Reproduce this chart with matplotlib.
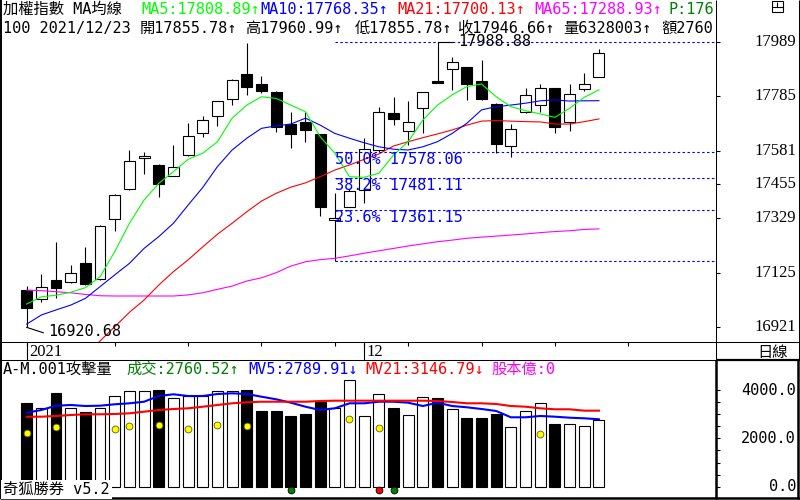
import numpy as np
import matplotlib
matplotlib.use('Agg')
import matplotlib.pyplot as plt
from matplotlib.lines import Line2D
from matplotlib.patches import Rectangle

# daily candles of the TAIEX, last one is 2021/12/23
opens = [17060, 17026, 17098, 17092, 17160, 17100, 17326, 17437, 17553, 17528,
         17487, 17564, 17647, 17710, 17774, 17868, 17831, 17801, 17681, 17688,
         17643, 17322, 17372, 17434, 17584, 17724, 17655, 17740, 17843, 17886,
         17893, 17841, 17756, 17599, 17725, 17752, 17815, 17690, 17811, 17855.78]
highs = [17075, 17119, 17241, 17154, 17222, 17302, 17418, 17584, 17577, 17530,
         17603, 17686, 17711, 17769, 17848, 17985, 17861, 17803, 17727, 17727,
         17645, 17422, 17440, 17628, 17746, 17781, 17767, 17802, 17988.88, 17931,
         17895, 17921, 17758, 17680, 17817, 17830, 17817, 17830, 17871, 17960.99]
lows = [16920.68, 17015, 17030, 17086, 17078, 17098, 17282, 17435, 17493, 17407,
        17485, 17562, 17634, 17675, 17752, 17790, 17796, 17652, 17593, 17615,
        17337, 17167.24, 17370, 17385, 17578, 17678, 17603, 17647, 17835, 17808,
        17772, 17772, 17572, 17559, 17723, 17727, 17649, 17656, 17805, 17855.78]
closes = [16992, 17071, 17069, 17123, 17082, 17300, 17416, 17543, 17562, 17456,
          17520, 17636, 17696, 17767, 17846, 17821, 17806, 17671, 17645, 17658,
          17372, 17330, 17432, 17587, 17725, 17701, 17688, 17800, 17836, 17914,
          17830, 17774, 17605, 17661, 17790, 17815, 17671, 17793, 17831, 17946.66]

ma5 = [17008, 17035, 17041, 17052, 17069, 17110, 17204, 17310, 17397, 17459,
       17503, 17549, 17572, 17615, 17703, 17752, 17783, 17777, 17752, 17727,
       17634, 17572, 17484, 17482, 17497, 17565, 17615, 17696, 17752, 17790,
       17821, 17831, 17783, 17746, 17731, 17719, 17706, 17740, 17781, 17808.89]
ma10 = [16933, 16967, 16986, 17004, 17029, 17073, 17117, 17160, 17216, 17260,
        17310, 17378, 17444, 17522, 17584, 17628, 17665, 17674, 17681, 17703,
        17677, 17646, 17628, 17611, 17596, 17587, 17584, 17596, 17615, 17646,
        17684, 17734, 17746, 17752, 17759, 17768, 17771, 17767, 17768, 17768.35]
ma21_start = 4
ma21 = [16814, 16870, 16923, 16977, 17023, 17079, 17129, 17173, 17222, 17269,
        17310, 17353, 17393, 17422, 17445, 17461, 17484, 17509, 17528, 17549,
        17569, 17599, 17615, 17630, 17644, 17659, 17677, 17692, 17694, 17692,
        17690, 17689, 17681, 17681, 17690, 17700.13]
ma65 = [17060, 17058, 17054, 17050, 17044, 17039, 17038, 17038, 17038, 17038,
        17038, 17042, 17050, 17063, 17075, 17094, 17106, 17125, 17150, 17166,
        17174, 17179, 17188, 17198, 17207, 17216, 17225, 17233, 17241, 17247,
        17254, 17258, 17262, 17266, 17270, 17275, 17279, 17282, 17287, 17288.93]

# turnover (億)
volume = [3476, 3244, 3890, 3244, 3104, 3244, 3753, 3960, 3960, 4001,
          3658, 3753, 3753, 3960, 3960, 4001, 3145, 3145, 2926, 3008,
          3517, 3244, 4415, 2926, 3836, 3250, 2954, 3724, 3658, 3203,
          2830, 2830, 3008, 2458, 3120, 3451, 2594, 2582, 2512, 2760.52]
mv5 = [3062, 3174, 3352, 3381, 3339, 3352, 3410, 3451, 3517, 3753,
       3824, 3753, 3753, 3836, 3865, 3836, 3724, 3617, 3476, 3310,
       3174, 3244, 3451, 3451, 3517, 3517, 3476, 3339, 3476, 3339,
       3286, 3215, 3133, 2872, 2872, 2926, 2897, 2855, 2830, 2789.91]
mv21 = [2897, 2897, 2926, 2967, 2996, 2996, 3008, 3037, 3104, 3174,
        3215, 3244, 3310, 3381, 3451, 3492, 3517, 3517, 3517, 3517,
        3546, 3559, 3559, 3559, 3559, 3559, 3559, 3559, 3546, 3505,
        3451, 3451, 3422, 3339, 3310, 3244, 3203, 3203, 3145, 3146.79]
attack_idx = [0, 2, 6, 7, 9, 11, 13, 15, 22, 24, 35]
attack_val = [2210, 2483, 2388, 2512, 2553, 2388, 2553, 2524, 2801, 2441, 2181]
buy_idx = [18, 25]
sell_idx = [24]

price_ticks = [17989, 17785, 17581, 17455, 17329, 17125, 16921]
vol_ticks = [0, 2000, 4000]
week_ticks = [0, 6, 11, 16, 21, 23, 26, 31, 36, 41]
month_ticks = [0, 23]
month_labels = ['2021', '12']

swing_high_idx, swing_high = 28, 17988.88
swing_low_idx, swing_low = 21, 17167.24
fib_labels = ['50.0%', '38.2%', '23.6%']
fib_prices = [17578.06, 17481.11, 17361.15]

header1 = [(3, '加權指數 MA均線', 'black'),
           (141.7, 'MA5:17808.89↑', '#00ff00'),
           (260.7, 'MA10:17768.35↑', '#0000ff'),
           (397, 'MA21:17700.13↑', '#ff0000'),
           (534, 'MA65:17288.93↑', '#ff00ff'),
           (668, 'P:176', '#008000')]
header2 = [(3, '100 2021/12/23', 'black'),
           (140, '開17855.78↑', 'black'),
           (245, '高17960.99↑', 'black'),
           (355, '低17855.78↑', 'black'),
           (456.7, '收17946.66↑', 'black'),
           (563.3, '量6328003↑', 'black'),
           (661.7, '額2760.52', 'black')]
vol_header = [(3, 'A-M.001攻擊量', 'black'),
              (126.7, '成交:2760.52↑', '#008000'),
              (248.3, 'MV5:2789.91↓', '#0000ff'),
              (365, 'MV21:3146.79↓', '#ff0000'),
              (491, '股本億:0', '#ff00ff')]

MONO = ['DejaVu Sans Mono', 'Noto Sans CJK TC']
SERIF = ['Liberation Serif', 'DejaVu Serif']
W, H = 800.0, 500.0


def px(x, y):
    return x / W, 1 - y / H


def fig_line(fig, x0, y0, x1, y1, lw=0.75):
    a, b = px(x0, y0)
    c, d = px(x1, y1)
    fig.add_artist(Line2D([a, c], [b, d], color='black', lw=lw, solid_capstyle='butt'))


def fig_text(fig, x, y, s, color='black', size=11, ha='left', family=MONO, **kw):
    fx, fy = px(x, y)
    fig.text(fx, fy, s, color=color, fontsize=size, ha=ha, va='center', family=family, **kw)


def rect(left, top, right, bottom):
    return [left / W, 1 - bottom / H, (right - left) / W, (bottom - top) / H]


def main():
    x = np.arange(len(closes))
    o, h, l, c = map(np.array, (opens, highs, lows, closes))
    up = c >= o
    face = np.where(up, 'white', 'black')
    xlim = (-1.684, 46.98)

    fig = plt.figure(figsize=(8, 5), dpi=100)

    # ---- price panel ----
    ax = fig.add_axes(rect(2, 0, 716, 342))
    ax.set_xlim(xlim)
    ax.set_ylim(16866.0, 18144.9)
    for s in ax.spines.values():
        s.set_visible(False)
    ax.vlines(x, l, h, color='black', lw=0.8, zorder=2)
    ax.bar(x, np.abs(c - o), bottom=np.minimum(o, c), width=0.74, color=face,
           edgecolor='black', lw=0.8, zorder=3)
    ax.plot(x, ma65, color='#ff00ff', lw=0.8, zorder=4)
    ax.plot(x[ma21_start:], ma21, color='#ff0000', lw=0.8, zorder=4)
    ax.plot(x, ma10, color='#0000ff', lw=0.8, zorder=4)
    ax.plot(x, ma5, color='#00ff00', lw=0.8, zorder=4)

    # golden section levels from the swing low
    for lvl in [swing_high] + fib_prices + [swing_low]:
        ax.hlines(lvl, swing_low_idx, xlim[1], colors='#0000ff', lw=0.8,
                  linestyles=(0, (2.2, 2.2)), zorder=4)
    for lab, lvl in zip(fib_labels, fib_prices):
        ax.text(swing_low_idx + 0.02, lvl, f'{lab} {lvl:.2f}', color='#0000ff',
                fontsize=11, family=MONO, va='top', zorder=6)

    # high / low marks
    ax.plot([swing_high_idx, swing_high_idx + 1.07], [swing_high, swing_high],
            color='black', lw=0.8, zorder=5)
    ax.text(swing_high_idx + 1.41, swing_high, f'{swing_high:.2f}', fontsize=11,
            family=MONO, va='center', zorder=6)
    ax.plot([0, 1.13], [lows[0], lows[0] - 20], color='black', lw=0.8, zorder=5)
    ax.text(1.43, lows[0] - 17, f'{lows[0]:.2f}', fontsize=11, family=MONO,
            va='center', zorder=6)

    ax.yaxis.tick_right()
    ax.set_yticks(price_ticks)
    ax.set_xticks(week_ticks)
    ax.tick_params(axis='both', length=3, width=0.8, direction='out',
                   labelright=False, labelbottom=False, labelleft=False)
    for v in price_ticks:
        ax.text(1.1121, v, str(v), transform=ax.get_yaxis_transform(), ha='right',
                va='center', fontsize=12, family=SERIF, clip_on=False)

    for row, y in ((header1, 9), (header2, 28)):
        for xp, s, col in row:
            fx, fy = px(xp, y)
            ax.text(fx, fy, s, color=col, fontsize=11, family=MONO, va='center',
                    transform=fig.transFigure, clip_on=True, zorder=7)

    # ---- date strip ----
    sax = fig.add_axes(rect(2, 342, 716, 360))
    sax.set_xlim(xlim)
    sax.set_ylim(0, 1)
    sax.axis('off')
    sax.vlines(month_ticks, 0, 1, color='black', lw=0.8)
    for t, lab in zip(month_ticks, month_labels):
        sax.text(t + 0.16, 0.45, lab, va='center', fontsize=12, family=SERIF)

    # ---- volume panel ----
    vax = fig.add_axes(rect(2, 360, 716, 498))
    vax.set_xlim(xlim)
    vax.set_ylim(-468, 5243)
    for s in vax.spines.values():
        s.set_visible(False)
    vax.bar(x, volume, width=0.74, color=face, edgecolor='black', lw=0.8, zorder=2)
    vax.plot(x, mv5, color='#0000ff', lw=1.5, zorder=3)
    vax.plot(x, mv21, color='#ff0000', lw=1.5, zorder=3)
    vax.scatter(attack_idx, attack_val, s=24, color='#ffff00', edgecolors='#606000',
                lw=0.6, zorder=4)
    vax.scatter(buy_idx, [-140] * len(buy_idx), s=24, color='#008000',
                edgecolors='black', lw=0.6, zorder=4, clip_on=False)
    vax.scatter(sell_idx, [-140] * len(sell_idx), s=24, color='#ff0000',
                edgecolors='black', lw=0.6, zorder=4, clip_on=False)
    vax.yaxis.tick_right()
    vax.set_yticks(vol_ticks)
    vax.set_yticks(np.arange(0, 4001, 500), minor=True)
    vax.set_xticks([])
    vax.tick_params(axis='y', which='both', length=3, width=0.8, direction='out',
                    labelright=False, labelleft=False)
    for v in vol_ticks:
        vax.text(1.1121, v, f'{v:.1f}', transform=vax.get_yaxis_transform(),
                 ha='right', va='center', fontsize=11, family=MONO, clip_on=False)

    for xp, s, col in vol_header:
        fig_text(fig, xp, 369, s, color=col)
    fig_text(fig, 3, 489.5, '奇狐勝券 v5.2',
             bbox=dict(facecolor='white', edgecolor='none', pad=1.5))
    fig_text(fig, 757, 352, '日線')

    # ---- frame ----
    fig_line(fig, 1, 0, 1, 499, lw=1.4)
    fig_line(fig, 0, 342.3, 800, 342.3)
    fig_line(fig, 0, 360.3, 716, 360.3)
    fig_line(fig, 716, 360.3, 800, 360.3, lw=1.6)
    fig_line(fig, 716.3, 0, 716.3, 360)
    fig_line(fig, 716.3, 360, 716.3, 499, lw=1.8)
    fig_line(fig, 798.5, 0, 798.5, 360)
    fig_line(fig, 798.3, 360, 798.3, 499, lw=1.8)
    fig_line(fig, 0, 498, 800, 498, lw=1.8)

    # small window icon, top right
    fig.add_artist(Rectangle(px(771.5, 11.5), 11.5 / W, 10 / H, fill=False,
                             lw=0.8, ec='black', transform=fig.transFigure))
    fig_line(fig, 771.5, 6.5, 783, 6.5, lw=0.8)
    fig_line(fig, 777, 1.5, 777, 6.5, lw=0.8)

    fig.savefig('out.png', dpi=100, facecolor='white')


if __name__ == "__main__":
    main()
